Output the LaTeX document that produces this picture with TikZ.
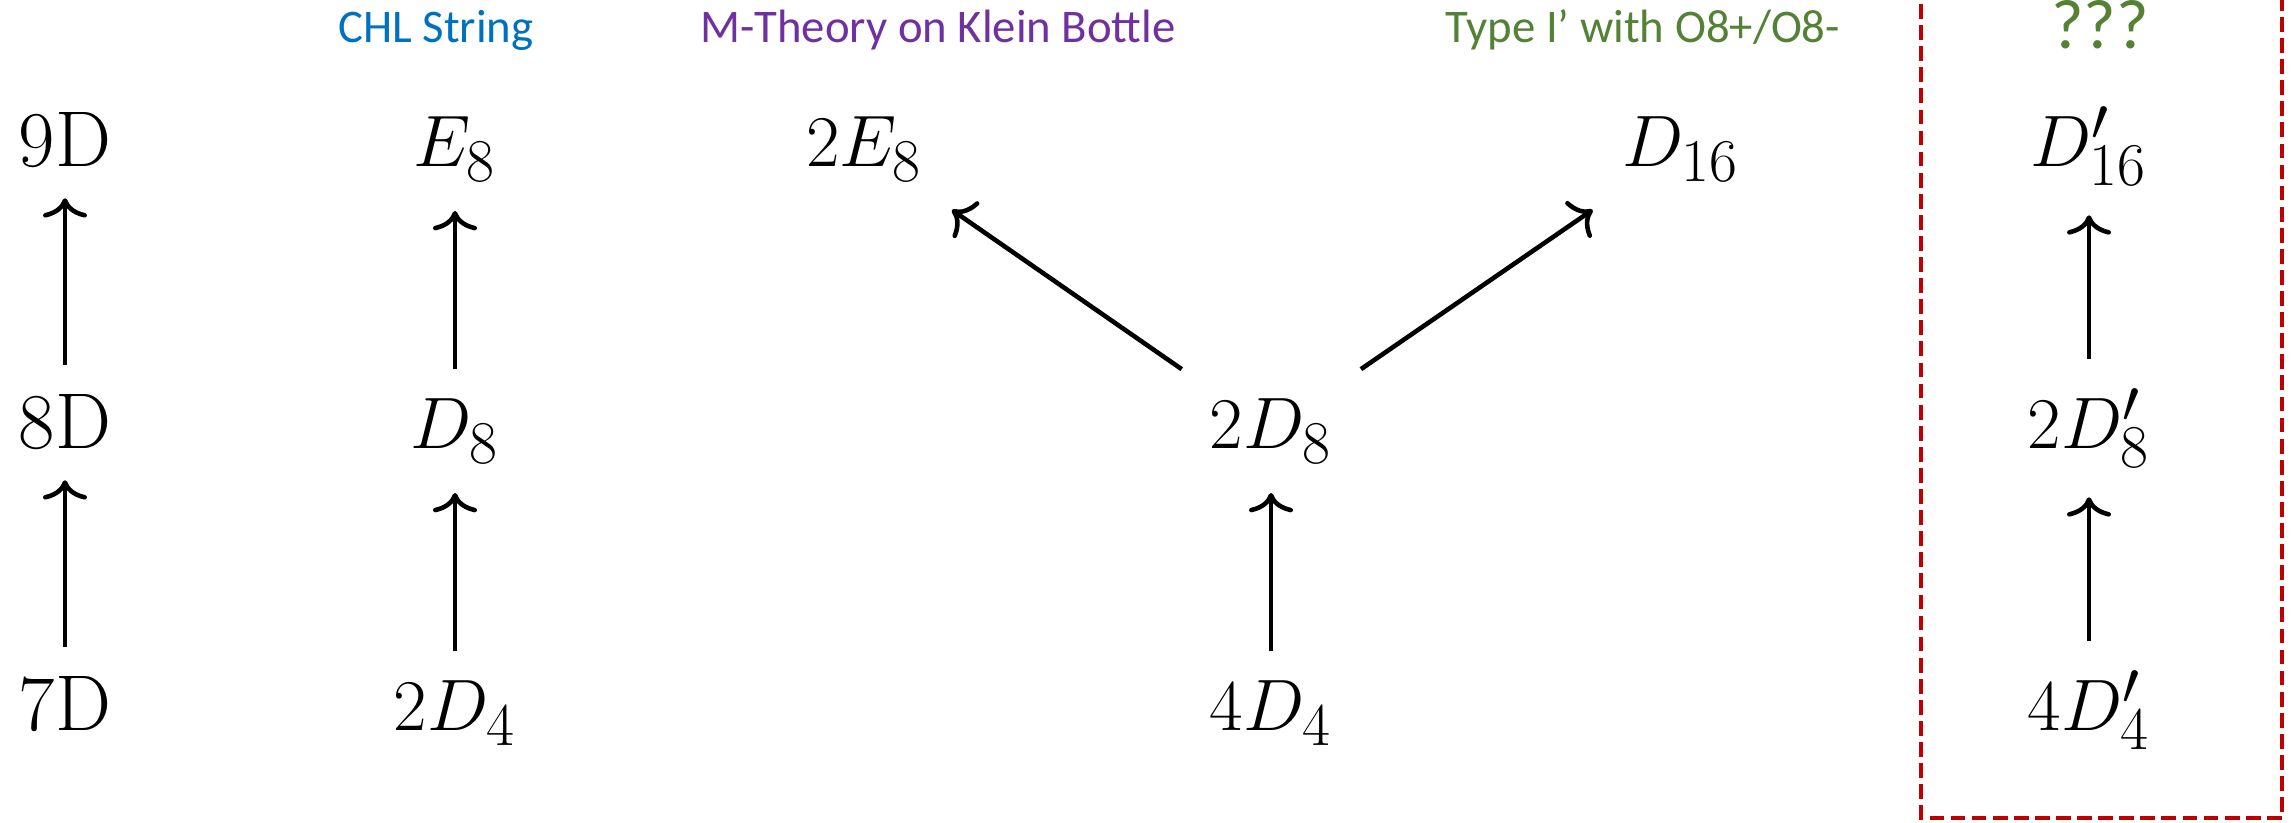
\documentclass[tikz,border=0pt]{standalone}
\usepackage{fontspec}
\newfontfamily\calib{Carlito}
\usetikzlibrary{arrows.meta}
\DeclareMathSizes{22.5}{22.5}{16.4}{12}
\definecolor{chlblue}{HTML}{0070C0}
\definecolor{kbpurple}{HTML}{7030A0}
\definecolor{typegreen}{HTML}{538135}
\definecolor{boxred}{HTML}{C00000}
\begin{document}
\begin{tikzpicture}[
  alg/.style={inner sep=0pt, outer sep=0.3cm, anchor=base, font=\fontsize{22.5}{27}\selectfont},
  arr/.style={line width=1.3pt, -{Computer Modern Rightarrow[length=5.5pt,width=12.5pt]}},
  lbl/.style={anchor=base, font=\calib\fontsize{13.3}{16}\selectfont},
  boxline/.style={boxred, line width=1.2pt, dash pattern=on 4.2pt off 1.8pt}]
  \useasboundingbox (0,0) rectangle (22.95,8.23);

  % titles
  \node[lbl, text=chlblue] (chl) at (4.36,7.80) {CHL String};
  \node[lbl, text=kbpurple] (kb) at (9.38,7.80) {M-Theory on Klein Bottle};
  \node[lbl, text=typegreen] (tI) at (16.43,7.80) {Type I’ with O8+/O8-};
  \node[lbl, text=typegreen, font=\calib\fontsize{20}{24}\selectfont] (qq) at (21.00,7.74) {???};

  % dimensions
  \node[alg] (d9) at (0.65,6.56) {9D};
  \node[alg] (d8) at (0.65,3.74) {8D};
  \node[alg] (d7) at (0.65,0.92) {7D};
  \draw[arr] (d7) -- (d8);
  \draw[arr] (d8) -- (d9);

  % CHL
  \node[alg] (e8) at (4.55,6.56) {$E_8$};
  \node[alg] (dd8) at (4.55,3.74) {$D_8$};
  \node[alg] (dd4) at (4.55,0.92) {$2D_4$};
  \draw[arr] (dd4) -- (dd8);
  \draw[arr] (dd8) -- (e8);

  % Klein bottle / type I'
  \node[alg] (ee8) at (8.64,6.56) {$2E_8$};
  \node[alg] (d16) at (16.81,6.56) {$D_{16}$};
  \node[alg] (twod8) at (12.71,3.74) {$2D_8$};
  \node[alg] (fourd4) at (12.71,0.92) {$4D_4$};
  \draw[arr] (fourd4) -- (twod8);
  \draw[arr] (twod8) -- (ee8);
  \draw[arr] (twod8) -- (d16);

  % unknown
  \node[alg] (dp16) at (20.89,6.56) {$D'_{16}$};
  \node[alg] (dp8) at (20.89,3.74) {$2D'_8$};
  \node[alg] (dp4) at (20.89,0.92) {$4D'_4$};
  \draw[arr] (dp4) -- (dp8);
  \draw[arr] (dp8) -- (dp16);
  \draw[boxline] (19.21,8.40) -- (19.21,0.05) -- (22.82,0.05) -- (22.82,8.40);
\end{tikzpicture}
\end{document}
